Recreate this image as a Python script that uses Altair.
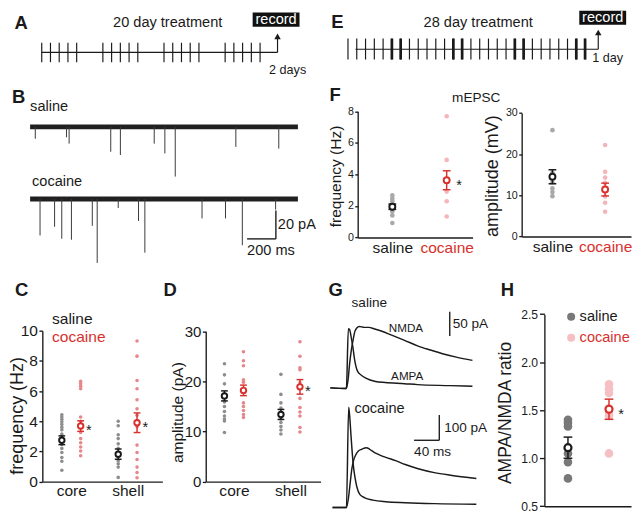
import altair as alt
import pandas as pd

# ============================ data ============================
# A: 20-day treatment schedule (injection days) and recording day
a_injection_days = [1, 2, 3, 4, 5, 8, 9, 10, 11, 12, 15, 16, 17, 18, 19, 22, 23, 24, 25, 26]
a_record_day = 28
# E: 28-day treatment schedule, heavier marks on some days
e_injection_days = [1, 2, 3, 4, 5, 6, 7, 8, 9, 10, 11, 12, 13, 14, 15, 16, 17, 18, 19, 20,
                    21, 22, 23, 24, 25, 26, 27, 28]
e_heavy_days = [6, 7, 13, 14, 20, 21, 27, 28]
e_line_start_day = 1.85
e_record_day = 29.5

# B: example mEPSC traces (event time in ms, amplitude in pA)
b_trace_ms = 1860
b_saline_event_ms = [36, 253, 271, 560, 627, 862, 936, 1008, 1429, 1727]
b_saline_event_pA = [8.4, 7.3, 11.8, 17.5, 19.8, 11.8, 18.7, 35.0, 14.1, 15.3]
b_cocaine_event_ms = [69, 170, 220, 287, 432, 466, 612, 753, 797, 1194, 1357, 1474, 1705]
b_cocaine_event_pA = [25.7, 19.6, 28.0, 28.7, 18.9, 45.0, 6.4, 15.5, 37.8, 13.7, 13.7, 32.6, 7.5]
b_bar_ms = 200
b_bar_pA = 20

regions = ["core", "shell"]
conditions = ["saline", "cocaine"]

# C: frequency (Hz)
c_saline_core = [4.43, 4.28, 4.13, 3.96, 3.79, 3.6, 3.43, 3.15, 3.0, 2.46, 2.2, 1.93, 1.6, 1.35, 0.75]
c_saline_shell = [4.0, 3.7, 3.1, 2.85, 2.5, 2.2, 1.93, 1.65, 1.39, 1.18, 0.96, 0.28]
c_cocaine_core = [6.64, 6.49, 6.32, 6.15, 4.28, 4.0, 3.75, 3.53, 3.25, 2.85, 2.57, 2.29, 2.03, 1.71]
c_cocaine_shell = [9.31, 8.31, 6.7, 6.15, 5.42, 4.82, 4.39, 3.64, 2.42, 1.93, 1.46, 0.96, 0.6, 0.26]
c_saline_mean = [2.74, 1.82]
c_saline_sem = [0.29, 0.34]
c_cocaine_mean = [3.68, 3.9]
c_cocaine_sem = [0.35, 0.65]
c_star = [True, True]

# D: amplitude (pA)
d_saline_core = [23.5, 21.3, 19.5, 17.5, 15.9, 15.0, 14.0, 13.1, 12.5, 12.1, 9.8]
d_saline_shell = [21.4, 17.4, 15.7, 14.7, 13.9, 13.1, 12.5, 11.8, 11.0, 10.3, 9.5]
d_cocaine_core = [25.9, 24.1, 23.1, 20.3, 19.8, 18.1, 15.7, 15.0, 14.2, 13.4, 12.8]
d_cocaine_shell = [27.9, 25.0, 22.7, 22.3, 19.7, 16.6, 14.8, 13.9, 13.1, 10.8, 9.9]
d_saline_mean = [17.1, 13.4]
d_saline_sem = [1.0, 1.0]
d_cocaine_mean = [18.2, 18.9]
d_cocaine_sem = [1.05, 1.45]
d_star = [False, True]

# F: mEPSC frequency (Hz) and amplitude (mV)
f_freq_saline = [2.67, 2.46, 2.3, 2.09, 1.85, 1.64, 1.4, 0.92]
f_freq_cocaine = [7.69, 4.92, 3.59, 2.91, 2.3, 1.33]
f_freq_mean = [1.95, 3.63]
f_freq_sem = [0.17, 0.6]
f_amp_saline = [25.8, 15.5, 14.3, 13.1, 11.7, 10.8, 9.8]
f_amp_cocaine = [22.2, 15.7, 14.3, 13.0, 11.2, 9.7, 8.2, 6.0]
f_amp_mean = [14.5, 11.4]
f_amp_sem = [1.7, 1.55]

# G: evoked EPSC traces (time in ms, current in pA)
g_saline_ampa_ms = [-25.6, -1.0, 0.0, 3.1, 5.1, 7.7, 10.3, 12.8, 18.0, 23.1, 30.8, 46.2, 61.6, 92.3, 112.9, 164.2, 200.0]
g_saline_ampa_pA = [0, -1.3, 0, 122, 120, 103.4, 83.4, 60, 33.4, 26.7, 20, 13.3, 11.3, 8.7, 6.7, 4.7, 3.3]
g_saline_nmda_ms = [-25.6, -1.0, 0.0, 2.6, 5.1, 7.7, 10.3, 12.8, 16.4, 20.5, 28.2, 35.9, 43.6, 56.4, 71.8,
                    92.3, 112.9, 133.4, 153.9, 174.4, 200.0]
g_saline_nmda_pA = [0, -1.3, 0, 16.7, 50, 76.7, 96.7, 113.4, 123.4, 126.7, 124.7, 124.7, 122, 116.7, 108.7,
                    98, 86.7, 78, 70, 63.4, 56.7]
g_cocaine_ampa_ms = [-22.0, 0.0, 3.6, 5.1, 7.2, 9.2, 11.3, 13.9, 16.4, 21.5, 29.2, 42.1, 62.6, 93.4, 139.5, 206.2]
g_cocaine_ampa_pA = [0, 0, 397.7, 365.7, 288.7, 218, 160.4, 115.5, 83.4, 51.3, 38.5, 29.5, 23.1, 19.2, 15.4, 12.8]
g_cocaine_nmda_ms = [-22.0, 0.0, 3.6, 6.2, 8.7, 11.3, 15.4, 19.0, 24.1, 31.8, 36.9, 44.6, 52.3, 62.6, 78.0,
                     93.4, 113.9, 139.5, 165.2, 206.2]
g_cocaine_nmda_pA = [0, 0, 44.9, 102.6, 154, 186, 211.7, 224.5, 231, 237.4, 231, 218.1, 209.1, 198.9, 186,
                     170.6, 154, 138.6, 128.3, 115.5]
g_saline_bar_pA = 50
g_cocaine_bar_pA = 100
g_cocaine_bar_ms = 40

# H: AMPA/NMDA ratio
h_saline = [1.40, 1.37, 1.33, 1.05, 0.96, 0.79]
h_cocaine = [1.77, 1.72, 1.68, 1.52, 1.47, 1.44, 1.05]
h_mean = [1.11, 1.51]
h_sem = [0.11, 0.105]

# ============================ layout & style ============================
K = 0.975
W, H = 624, 503
FONT = "Liberation Sans"
BLACK = "#1a1a1a"
RED = "#d8312d"
ONE = pd.DataFrame({"k": [0]})
BOX = "M-1,-0.3H1V0.3H-1Z"


def fx(X):
    return round((X - 1.0) * K, 2)


def fy(Y):
    return round((Y - 3.5) * K, 2)


def fs(s):
    return round(s * K, 2)


def text_at(s, X, Y, size, color=BLACK, align="left", weight="normal"):
    return alt.Chart(ONE).mark_text(
        text=s, font=FONT, fontSize=fs(size), color=color, align=align,
        baseline="middle", fontWeight=weight
    ).encode(x=alt.value(fx(X)), y=alt.value(fy(Y)))


def lin_x(domain, X0, X1):
    return alt.Scale(domain=domain, range=[fx(X0), fx(X1)], nice=False, zero=False)


def lin_y(domain, Ybottom, Ytop):
    return alt.Scale(domain=domain, range=[fy(Ybottom), fy(Ytop)], nice=False, zero=False)


def trace_y(Y0, per_px, Ytop, Ybottom):
    return lin_y([round((Y0 - Ybottom) * per_px, 2), round((Y0 - Ytop) * per_px, 2)], Ybottom, Ytop)


def point_x(cats, Xl, Xr, Xfirst, Xlast):
    n = len(cats)
    width = Xr - Xl
    step = (Xlast - Xfirst) / (n - 1)
    po = (width / step - (n - 1)) / 2
    al = (Xfirst - Xl) / (width - step * (n - 1))
    return alt.Scale(type="point", domain=cats, range=[fx(Xl), fx(Xr)],
                     padding=round(po, 4), align=round(al, 4))


def y_axis(X_axis, values, title, title_X, title_Y, label_size, title_size, tick=3.5, pad=1.5, fmt=None):
    kw = dict(orient="left", offset=-fx(X_axis), values=values, grid=False,
              tickSize=tick * K, tickWidth=1.4 * K, tickColor=BLACK,
              domainColor=BLACK, domainWidth=1.4 * K,
              labelFont=FONT, labelFontSize=fs(label_size), labelColor=BLACK, labelPadding=pad * K,
              title=title, titleFont=FONT, titleFontSize=fs(title_size), titleFontWeight="normal",
              titleColor=BLACK, titleX=round((title_X - X_axis) * K, 2), titleY=fy(title_Y),
              titleAngle=270, titleAlign="center", titleBaseline="middle")
    if fmt:
        kw["format"] = fmt
    return alt.Axis(**kw)


def x_axis(Y_axis, label_size=16, pad=2.0, colored=False, labels=True):
    kw = dict(orient="bottom", offset=round(fy(Y_axis) - H, 2), ticks=False, grid=False,
              domainColor=BLACK, domainWidth=1.4 * K, title=None, labelAngle=0)
    if labels:
        kw.update(labelFont=FONT, labelFontSize=fs(label_size), labelPadding=pad * K, labelOverlap=False)
        if colored:
            kw["labelColor"] = {"condition": {"test": "datum.value === 'cocaine'", "value": RED}, "value": BLACK}
        else:
            kw["labelColor"] = BLACK
    else:
        kw["labels"] = False
    return alt.Axis(**kw)


def dot_panel(groups, xs, ys, xa, ya, dot_size, mean_size, cap_w, star_dx, star_dy=5.5, star_size=15,
              mean_sw=2.0):
    def X():
        return alt.X("cat:N", scale=xs, axis=xa)

    def Y(f):
        return alt.Y(f, scale=ys, axis=ya)

    layers = []
    for g in groups:
        df = pd.DataFrame({"cat": [c for c, vs in zip(g["cats"], g["vals"]) for _ in vs],
                           "v": [v for vs in g["vals"] for v in vs]})
        layers.append(alt.Chart(df).mark_circle(size=dot_size, color=g["dot"], opacity=1,
                                                xOffset=g["off"]).encode(x=X(), y=Y("v:Q")))
    for g in groups:
        mdf = pd.DataFrame({"cat": g["cats"], "m": g["mean"],
                            "lo": [m - s for m, s in zip(g["mean"], g["sem"])],
                            "hi": [m + s for m, s in zip(g["mean"], g["sem"])],
                            "star": g["star"]})
        col = g["line"]
        layers += [
            alt.Chart(mdf).mark_rule(color=col, strokeWidth=1.5 * K, xOffset=g["off"]).encode(
                x=X(), y=Y("lo:Q"), y2="hi:Q"),
            alt.Chart(mdf).mark_tick(color=col, orient="horizontal", size=cap_w * K, thickness=1.5 * K,
                                     xOffset=g["off"], opacity=1).encode(x=X(), y=Y("lo:Q")),
            alt.Chart(mdf).mark_tick(color=col, orient="horizontal", size=cap_w * K, thickness=1.5 * K,
                                     xOffset=g["off"], opacity=1).encode(x=X(), y=Y("hi:Q")),
            alt.Chart(mdf).mark_point(shape="circle", filled=True, fill="white", stroke=col,
                                      strokeWidth=mean_sw * K, size=mean_size, opacity=1,
                                      xOffset=g["off"]).encode(x=X(), y=Y("m:Q")),
        ]
        sdf = mdf[mdf["star"]]
        if len(sdf):
            layers.append(alt.Chart(sdf).mark_text(text="*", font=FONT, fontSize=fs(star_size), color=BLACK,
                                                   align="center", baseline="middle",
                                                   xOffset=g["off"] + star_dx * K,
                                                   yOffset=star_dy * K).encode(x=X(), y=Y("m:Q")))
    return alt.layer(*layers)


# ============================ A: timeline ============================
ax = lin_x([0, 31], 23.7, 302.7)


def AX(f):
    return alt.X(f, scale=ax, axis=None)


a_days_df = pd.DataFrame({"day": a_injection_days})
a_span_df = pd.DataFrame({"start": [a_injection_days[0]], "end": [a_record_day]})
a_rec_df = pd.DataFrame({"day": [a_record_day], "label": ["record"]})
panel_A = alt.layer(
    alt.Chart(a_span_df).mark_rule(color=BLACK, strokeWidth=1.2 * K).encode(
        x=AX("start:Q"), x2="end:Q", y=alt.value(fy(46))),
    alt.Chart(a_days_df).mark_rule(color=BLACK, strokeWidth=1.2 * K).encode(
        x=AX("day:Q"), y=alt.value(fy(36)), y2=alt.value(fy(56))),
    alt.Chart(a_rec_df).mark_rule(color=BLACK, strokeWidth=1.2 * K).encode(
        x=AX("day:Q"), y=alt.value(fy(46)), y2=alt.value(fy(31))),
    alt.Chart(a_rec_df).mark_point(shape="triangle-up", filled=True, size=45 * K * K, color=BLACK,
                                   opacity=1).encode(x=AX("day:Q"), y=alt.value(fy(29.5))),
    alt.Chart(a_rec_df).mark_point(shape=BOX, filled=True, size=(48.3 * K) ** 2, color="#111111",
                                   opacity=1, xOffset=-1.5 * K).encode(x=AX("day:Q"), y=alt.value(fy(12.2))),
    alt.Chart(a_rec_df).mark_text(font=FONT, fontSize=fs(15), color="white", xOffset=-1.5 * K,
                                  baseline="middle", align="center").encode(
        x=AX("day:Q"), y=alt.value(fy(12.2)), text="label:N"),
)

# ============================ E: timeline ============================
ex = lin_x([0, 32], 339.25, 628.85)


def EX(f):
    return alt.X(f, scale=ex, axis=None)


e_days_df = pd.DataFrame({"day": e_injection_days})
e_heavy_df = pd.DataFrame({"day": e_heavy_days})
e_span_df = pd.DataFrame({"start": [e_line_start_day], "end": [e_record_day]})
e_rec_df = pd.DataFrame({"day": [e_record_day], "label": ["record"]})
panel_E = alt.layer(
    alt.Chart(e_span_df).mark_rule(color=BLACK, strokeWidth=1.2 * K).encode(
        x=EX("start:Q"), x2="end:Q", y=alt.value(fy(42.7))),
    alt.Chart(e_days_df).mark_rule(color=BLACK, strokeWidth=1.2 * K).encode(
        x=EX("day:Q"), y=alt.value(fy(31.7)), y2=alt.value(fy(53.3))),
    alt.Chart(e_heavy_df).mark_rule(color=BLACK, strokeWidth=2.8 * K).encode(
        x=EX("day:Q"), y=alt.value(fy(31.7)), y2=alt.value(fy(53.3))),
    alt.Chart(e_rec_df).mark_rule(color=BLACK, strokeWidth=1.2 * K).encode(
        x=EX("day:Q"), y=alt.value(fy(42.7)), y2=alt.value(fy(27))),
    alt.Chart(e_rec_df).mark_point(shape="triangle-up", filled=True, size=45 * K * K, color=BLACK,
                                   opacity=1).encode(x=EX("day:Q"), y=alt.value(fy(25.5))),
    alt.Chart(e_rec_df).mark_point(shape=BOX, filled=True, size=(48.3 * K) ** 2, color="#111111",
                                   opacity=1, xOffset=4.6 * K).encode(x=EX("day:Q"), y=alt.value(fy(10.2))),
    alt.Chart(e_rec_df).mark_text(font=FONT, fontSize=fs(15), color="white", xOffset=4.6 * K,
                                  baseline="middle", align="center").encode(
        x=EX("day:Q"), y=alt.value(fy(10.2)), text="label:N"),
)

# ============================ B: mEPSC traces ============================
bx = lin_x([0, b_trace_ms], 20.7, 296.7)
bys = trace_y(122.7, 0.683, 110, 180)
byc = trace_y(197, 0.683, 175, 265)


def trace_layers(times, amps, ys):
    band_df = pd.DataFrame({"t0": [0], "t1": [b_trace_ms], "base": [0]})
    ev_df = pd.DataFrame({"t": times, "base": [0] * len(times), "peak": [-a for a in amps]})
    return [
        alt.Chart(band_df).mark_rule(color="#202020", strokeWidth=5.0 * K).encode(
            x=alt.X("t0:Q", scale=bx, axis=None), x2="t1:Q", y=alt.Y("base:Q", scale=ys, axis=None)),
        alt.Chart(ev_df).mark_rule(color="#3a3a3a", strokeWidth=1.0).encode(
            x=alt.X("t:Q", scale=bx, axis=None), y=alt.Y("base:Q", scale=ys, axis=None), y2="peak:Q"),
    ]


b_bar_end_ms = 1707
b_bar_base_pA = -28.1
b_bar_df = pd.DataFrame({"t0": [b_bar_end_ms - b_bar_ms], "t1": [b_bar_end_ms],
                         "y0": [b_bar_base_pA], "y1": [b_bar_base_pA + b_bar_pA],
                         "ym": [b_bar_base_pA + b_bar_pA / 2],
                         "tl": [f"{b_bar_ms} ms"], "yl": [f"{b_bar_pA} pA"]})


def BXs(f):
    return alt.X(f, scale=bx, axis=None)


def BYc(f):
    return alt.Y(f, scale=byc, axis=None)


b_bars = [
    alt.Chart(b_bar_df).mark_rule(color=BLACK, strokeWidth=1.4 * K).encode(x=BXs("t0:Q"), x2="t1:Q", y=BYc("y0:Q")),
    alt.Chart(b_bar_df).mark_rule(color=BLACK, strokeWidth=1.4 * K).encode(x=BXs("t1:Q"), y=BYc("y0:Q"), y2="y1:Q"),
    alt.Chart(b_bar_df).mark_text(font=FONT, fontSize=fs(15), color=BLACK, align="left", baseline="middle",
                                  dx=2 * K).encode(x=BXs("t1:Q"), y=BYc("ym:Q"), text="yl:N"),
    alt.Chart(b_bar_df).mark_text(font=FONT, fontSize=fs(15), color=BLACK, align="left", baseline="middle",
                                  dy=12 * K).encode(x=BXs("t0:Q"), y=BYc("y0:Q"), text="tl:N"),
]
panel_B = alt.layer(
    alt.layer(*trace_layers(b_saline_event_ms, b_saline_event_pA, bys)),
    alt.layer(*trace_layers(b_cocaine_event_ms, b_cocaine_event_pA, byc), *b_bars),
).resolve_scale(y="independent")

# ============================ F: mEPSC dot plots ============================
f1_x = point_x(conditions, 358.3, 476.7, 394, 450)
f1_y = lin_y([0, 8], 236.7, 106.7)
f2_x = point_x(conditions, 527.3, 640, 559, 613.3)
f2_y = lin_y([0, 30], 235.7, 108.3)
F_SAL, F_COC = "#a9a9a9", "#f3b6ba"
panel_F1 = dot_panel(
    [dict(cats=["saline"], vals=[f_freq_saline], mean=[f_freq_mean[0]], sem=[f_freq_sem[0]], dot=F_SAL,
          line=BLACK, off=0, star=[False]),
     dict(cats=["cocaine"], vals=[f_freq_cocaine], mean=[f_freq_mean[1]], sem=[f_freq_sem[1]], dot=F_COC,
          line=RED, off=0, star=[True])],
    f1_x, f1_y, x_axis(236.7, 16, pad=3.5, colored=True),
    y_axis(358.3, [0, 2, 4, 6, 8], "frequency (Hz)", 335, 173.3, 11, 16, tick=3, pad=1.5),
    dot_size=22, mean_size=36, cap_w=8, star_dx=12.7)
panel_F2 = dot_panel(
    [dict(cats=["saline"], vals=[f_amp_saline], mean=[f_amp_mean[0]], sem=[f_amp_sem[0]], dot=F_SAL,
          line=BLACK, off=0, star=[False]),
     dict(cats=["cocaine"], vals=[f_amp_cocaine], mean=[f_amp_mean[1]], sem=[f_amp_sem[1]], dot=F_COC,
          line=RED, off=0, star=[False])],
    f2_x, f2_y, x_axis(235.7, 16, pad=3.5, colored=True),
    y_axis(527.3, [0, 10, 20, 30], "amplitude (mV)", 497.5, 173, 11, 18.5, tick=3, pad=1.5),
    dot_size=22, mean_size=36, cap_w=8, star_dx=12)

# ============================ C, D: core/shell dot plots ============================
CD_SAL, CD_COC = "#8e8e8e", "#e5878b"
c_x = point_x(regions, 33.3, 157, 63.1, 121.2)
c_y = lin_y([0, 10], 488.3, 332.7)
panel_C = dot_panel(
    [dict(cats=regions, vals=[c_saline_core, c_saline_shell], mean=c_saline_mean, sem=c_saline_sem,
          dot=CD_SAL, line=BLACK, off=-9.7 * K, star=[False, False]),
     dict(cats=regions, vals=[c_cocaine_core, c_cocaine_shell], mean=c_cocaine_mean, sem=c_cocaine_sem,
          dot=CD_COC, line=RED, off=9.7 * K, star=c_star)],
    c_x, c_y, x_axis(488.3, 16, pad=1.5),
    y_axis(33.3, [0, 2, 4, 6, 8, 10], "frequency (Hz)", 7.5, 420, 16, 18.5, tick=3.5, pad=1.5),
    dot_size=13, mean_size=30, cap_w=7, star_dx=8.5)

d_x = point_x(regions, 201.7, 320, 230.8, 289)
d_y = lin_y([0, 30], 488.3, 333.3)
panel_D = dot_panel(
    [dict(cats=regions, vals=[d_saline_core, d_saline_shell], mean=d_saline_mean, sem=d_saline_sem,
          dot=CD_SAL, line=BLACK, off=-9.8 * K, star=[False, False]),
     dict(cats=regions, vals=[d_cocaine_core, d_cocaine_shell], mean=d_cocaine_mean, sem=d_cocaine_sem,
          dot=CD_COC, line=RED, off=9.8 * K, star=d_star)],
    d_x, d_y, x_axis(488.3, 16, pad=1.5),
    y_axis(201.7, [0, 10, 20, 30], "amplitude (pA)", 172.5, 416.7, 15.5, 16, tick=3.5, pad=1.5),
    dot_size=13, mean_size=30, cap_w=7, star_dx=8)

# ============================ G: evoked EPSC traces ============================
gx = lin_x([-26, 205], 329.8, 479.8)
gys = trace_y(391.7, 2.0, 300, 400)
gyc = trace_y(515, 3.85, 405, 519)


def trace_df(t1, v1, t2, v2):
    return pd.DataFrame({"t": t1 + t2, "pA": v1 + v2, "curve": ["AMPA"] * len(t1) + ["NMDA"] * len(t2)})


def trace_line(df, ys):
    return alt.Chart(df).mark_line(color=BLACK, strokeWidth=1.5 * K, interpolate="monotone").encode(
        x=alt.X("t:Q", scale=gx, axis=None), y=alt.Y("pA:Q", scale=ys, axis=None), detail="curve:N")


g_sal_bar_df = pd.DataFrame({"t": [164], "y0": [107], "y1": [107 + g_saline_bar_pA],
                             "ym": [107 + g_saline_bar_pA / 2], "lab": [f"{g_saline_bar_pA} pA"]})
g_coc_bar_df = pd.DataFrame({"t0": [147.4 - g_cocaine_bar_ms], "t1": [147.4], "y0": [266.8],
                             "y1": [266.8 + g_cocaine_bar_pA], "ym": [266.8 + g_cocaine_bar_pA / 2],
                             "ylab": [f"{g_cocaine_bar_pA} pA"], "tlab": [f"{g_cocaine_bar_ms} ms"]})


def GX(f):
    return alt.X(f, scale=gx, axis=None)


g_sal = alt.layer(
    trace_line(trace_df(g_saline_ampa_ms, g_saline_ampa_pA, g_saline_nmda_ms, g_saline_nmda_pA), gys),
    alt.Chart(g_sal_bar_df).mark_rule(color=BLACK, strokeWidth=1.4 * K).encode(
        x=GX("t:Q"), y=alt.Y("y0:Q", scale=gys, axis=None), y2="y1:Q"),
    alt.Chart(g_sal_bar_df).mark_text(font=FONT, fontSize=fs(14), color=BLACK, align="left",
                                      baseline="middle", dx=3 * K).encode(
        x=GX("t:Q"), y=alt.Y("ym:Q", scale=gys, axis=None), text="lab:N"),
)
g_coc = alt.layer(
    trace_line(trace_df(g_cocaine_ampa_ms, g_cocaine_ampa_pA, g_cocaine_nmda_ms, g_cocaine_nmda_pA), gyc),
    alt.Chart(g_coc_bar_df).mark_rule(color=BLACK, strokeWidth=1.4 * K).encode(
        x=GX("t0:Q"), x2="t1:Q", y=alt.Y("y0:Q", scale=gyc, axis=None)),
    alt.Chart(g_coc_bar_df).mark_rule(color=BLACK, strokeWidth=1.4 * K).encode(
        x=GX("t1:Q"), y=alt.Y("y0:Q", scale=gyc, axis=None), y2="y1:Q"),
    alt.Chart(g_coc_bar_df).mark_text(font=FONT, fontSize=fs(14), color=BLACK, align="left",
                                      baseline="middle", dx=5 * K).encode(
        x=GX("t1:Q"), y=alt.Y("ym:Q", scale=gyc, axis=None), text="ylab:N"),
    alt.Chart(g_coc_bar_df).mark_text(font=FONT, fontSize=fs(14), color=BLACK, align="left",
                                      baseline="middle", dy=12.3 * K).encode(
        x=GX("t0:Q"), y=alt.Y("y0:Q", scale=gyc, axis=None), text="tlab:N"),
)
panel_G = alt.layer(g_sal, g_coc).resolve_scale(y="independent")

# ============================ H: AMPA/NMDA ratio ============================
h_x = point_x(conditions, 550.7, 640, 575, 617.3)
h_y = lin_y([0.5, 2.5], 513.7, 315.7)
H_SAL, H_COC = "#787878", "#f5c0c4"
panel_H = dot_panel(
    [dict(cats=["saline"], vals=[h_saline], mean=[h_mean[0]], sem=[h_sem[0]], dot=H_SAL,
          line=BLACK, off=0, star=[False]),
     dict(cats=["cocaine"], vals=[h_cocaine], mean=[h_mean[1]], sem=[h_sem[1]], dot=H_COC,
          line=RED, off=0, star=[True])],
    h_x, h_y, x_axis(513.7, labels=False),
    y_axis(550.7, [0.5, 1.0, 1.5, 2.0, 2.5], "AMPA/NMDA ratio", 510.5, 417, 12.5, 18, tick=5, pad=2, fmt=".1f"),
    dot_size=75, mean_size=50, cap_w=9, star_dx=12.5, mean_sw=2.2)

# ============================ text annotations ============================
texts = [
    text_at("A", 11.5, 16, 19, weight="bold", align="center"),
    text_at("20 day treatment", 162.5, 16, 15, align="center"),
    text_at("2 days", 267, 64, 13),
    text_at("E", 337.5, 15, 19, weight="bold", align="center"),
    text_at("28 day treatment", 482.5, 16, 15, align="center"),
    text_at("1 day", 600, 52, 13),
    text_at("B", 9, 92, 19, weight="bold", align="center"),
    text_at("saline", 20.7, 102, 15),
    text_at("cocaine", 22.7, 180, 15),
    text_at("F", 335, 90, 19, weight="bold", align="center"),
    text_at("mEPSC", 480.5, 93, 14, align="center"),
    text_at("C", 12, 291, 19, weight="bold", align="center"),
    text_at("saline", 43.3, 321, 16),
    text_at("cocaine", 43.3, 339, 16, color=RED),
    text_at("D", 165, 291, 19, weight="bold", align="center"),
    text_at("G", 335.5, 291, 19, weight="bold", align="center"),
    text_at("saline", 352, 304, 14),
    text_at("NMDA", 408, 330, 12, align="center"),
    text_at("AMPA", 409.3, 379, 12, align="center"),
    text_at("cocaine", 355, 413.3, 15),
    text_at("H", 512.5, 291, 19, weight="bold", align="center"),
    alt.Chart(ONE).mark_circle(size=65, color=H_SAL, opacity=1).encode(
        x=alt.value(fx(578.3)), y=alt.value(fy(318.3))),
    alt.Chart(ONE).mark_circle(size=65, color=H_COC, opacity=1).encode(
        x=alt.value(fx(578.3)), y=alt.value(fy(340))),
    text_at("saline", 587, 318.3, 15),
    text_at("cocaine", 587, 340, 15, color=RED),
]

chart = alt.layer(
    panel_A, panel_E, panel_B, panel_F1, panel_F2, panel_C, panel_D, panel_G, panel_H, *texts
).resolve_scale(x="independent", y="independent").resolve_axis(
    x="independent", y="independent"
).properties(width=W, height=H, padding=0).configure_view(stroke=None)

chart.save("out.html", embed_options={"renderer": "svg", "actions": False})
